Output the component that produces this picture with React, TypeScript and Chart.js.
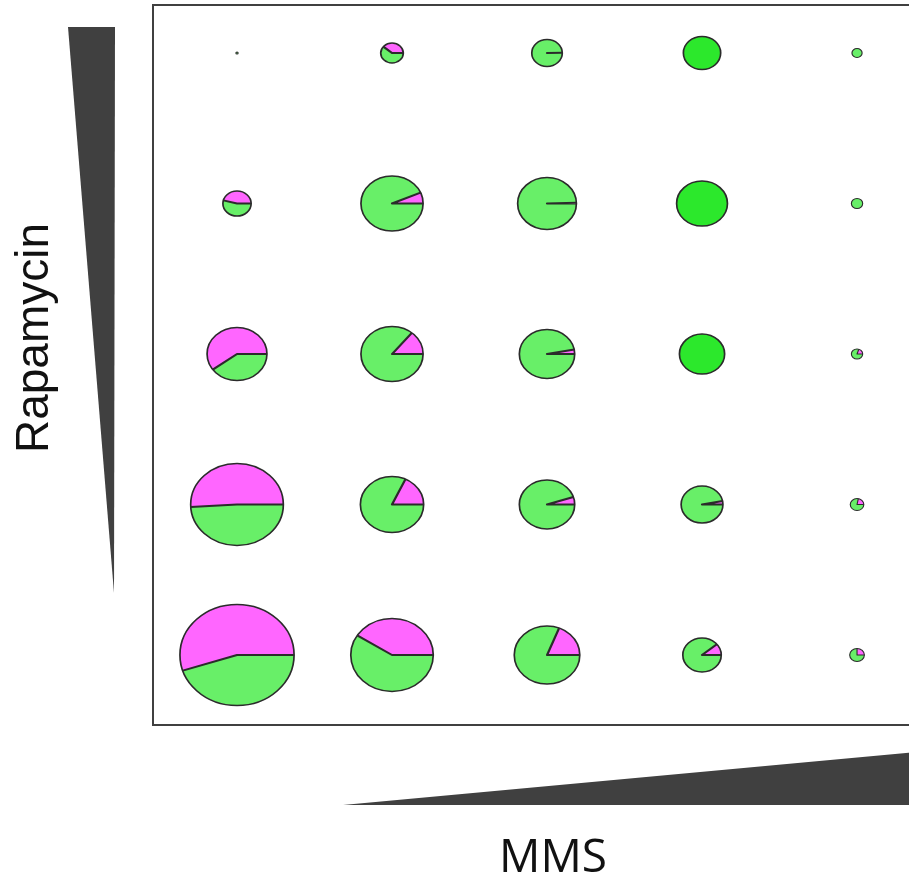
import { useEffect, useRef } from "react";
import { Chart, registerables } from "chart.js";

Chart.register(...registerables);

// MMS dose steps (x) and rapamycin dose steps (y), lowest first
const mmsLevels = [0, 1, 2, 3, 4];
const rapamycinLevels = [0, 1, 2, 3, 4];

// Pie diameter for each MMS step, one list per rapamycin step
const sizeRap0 = [101, 73, 58, 34, 13];
const sizeRap1 = [82, 56, 49, 37, 12];
const sizeRap2 = [53, 55, 49, 40, 10];
const sizeRap3 = [25, 55, 52, 45, 10];
const sizeRap4 = [2, 20, 27, 33, 9];

// Share of the magenta slice for each MMS step, one list per rapamycin step
const pinkRap0 = [0.55, 0.41, 0.19, 0.11, 0.25];
const pinkRap1 = [0.51, 0.18, 0.05, 0.03, 0.22];
const pinkRap2 = [0.6, 0.14, 0.03, 0, 0.2];
const pinkRap3 = [0.46, 0.065, 0.004, 0, 0];
const pinkRap4 = [0, 0.39, 0.004, 0, 0];

// Pies drawn as a single solid green disc
const solidRap0 = [false, false, false, false, false];
const solidRap1 = [false, false, false, false, false];
const solidRap2 = [false, false, false, true, false];
const solidRap3 = [false, false, false, true, false];
const solidRap4 = [false, false, false, true, false];

const sizes = [sizeRap0, sizeRap1, sizeRap2, sizeRap3, sizeRap4];
const pinkShares = [pinkRap0, pinkRap1, pinkRap2, pinkRap3, pinkRap4];
const solidFlags = [solidRap0, solidRap1, solidRap2, solidRap3, solidRap4];

const xTitle = "MMS";
const yTitle = "Rapamycin";

const GREEN = "#68ef68";
const SOLID_GREEN = "#2ce82c";
const PINK = "#ff66ff";
const EDGE = "#2b2b2b";
const DARK = "#404040";
const ASPECT = 1.13;

const pieGlyphs = {
  id: "pieGlyphs",
  beforeDatasetsDraw(chart: any) {
    const ctx = chart.ctx as CanvasRenderingContext2D;
    const a = chart.chartArea;
    ctx.save();
    // plot frame
    ctx.strokeStyle = DARK;
    ctx.lineWidth = 2;
    ctx.strokeRect(a.left, a.top, a.right - a.left, a.bottom - a.top);

    // dose wedges
    ctx.fillStyle = DARK;
    ctx.beginPath();
    ctx.moveTo(a.left - 85, a.top + 22);
    ctx.lineTo(a.left - 38, a.top + 22);
    ctx.lineTo(a.left - 39, a.top + 588);
    ctx.closePath();
    ctx.fill();

    ctx.beginPath();
    ctx.moveTo(a.left + 190, a.bottom + 80);
    ctx.lineTo(chart.width, a.bottom + 23);
    ctx.lineTo(chart.width, a.bottom + 80);
    ctx.closePath();
    ctx.fill();

    // axis titles
    ctx.fillStyle = "#111";
    ctx.textAlign = "center";
    ctx.textBaseline = "alphabetic";
    ctx.font = '46px "Open Sans", "Liberation Sans", sans-serif';
    ctx.fillText(xTitle, 553, a.bottom + 147);

    ctx.translate(48, 338);
    ctx.rotate(-Math.PI / 2);
    ctx.font = '46px "Liberation Sans", Arial, sans-serif';
    ctx.fillText(yTitle, 0, 0);
    ctx.restore();
  },
  afterDatasetsDraw(chart: any) {
    const ctx = chart.ctx as CanvasRenderingContext2D;
    chart.data.datasets.forEach((ds: any, di: number) => {
      const meta = chart.getDatasetMeta(di);
      meta.data.forEach((el: any, i: number) => {
        const r = el.options.radius;
        if (!r || r <= 0) return;
        const pink = pinkShares[di][i];
        const solid = solidFlags[di][i];
        ctx.save();
        ctx.translate(el.x, el.y);
        ctx.scale(ASPECT, 1);
        ctx.lineJoin = "round";
        ctx.strokeStyle = EDGE;
        ctx.lineWidth = r < 8 ? 1 : 1.5;
        if (solid || pink <= 0) {
          ctx.beginPath();
          ctx.arc(0, 0, r, 0, Math.PI * 2);
          ctx.fillStyle = solid ? SOLID_GREEN : GREEN;
          ctx.fill();
          ctx.stroke();
        } else {
          const split = (1 - pink) * Math.PI * 2;
          ctx.beginPath();
          ctx.moveTo(0, 0);
          ctx.arc(0, 0, r, 0, split);
          ctx.closePath();
          ctx.fillStyle = GREEN;
          ctx.fill();
          ctx.beginPath();
          ctx.moveTo(0, 0);
          ctx.arc(0, 0, r, split, Math.PI * 2);
          ctx.closePath();
          ctx.fillStyle = PINK;
          ctx.fill();
          // outline and slice edges
          ctx.beginPath();
          ctx.arc(0, 0, r, 0, Math.PI * 2);
          ctx.stroke();
          ctx.beginPath();
          ctx.moveTo(r, 0);
          ctx.lineTo(0, 0);
          ctx.lineTo(r * Math.cos(split), r * Math.sin(split));
          ctx.lineWidth = r < 8 ? 1 : 2;
          ctx.stroke();
        }
        ctx.restore();
      });
    });
  },
};

export default function App() {
  const canvasRef = useRef<HTMLCanvasElement | null>(null);

  useEffect(() => {
    const canvas = canvasRef.current;
    if (!canvas) return;
    const datasets = rapamycinLevels.map((rap, ri) => ({
      label: `Rapamycin ${rap}`,
      data: mmsLevels.map((mms, mi) => ({ x: mms, y: rap, r: sizes[ri][mi] / 2 })),
      backgroundColor: "rgba(0,0,0,0)",
      borderColor: "rgba(0,0,0,0)",
      borderWidth: 0,
      clip: false as any,
    }));
    const chart = new Chart(canvas, {
      type: "bubble",
      data: { datasets },
      options: {
        animation: false,
        responsive: false,
        events: [],
        layout: { autoPadding: false, padding: { left: 153, top: 5, right: 5, bottom: 154 } },
        plugins: { legend: { display: false }, tooltip: { enabled: false } },
        scales: {
          x: { type: "linear", display: false, min: -0.542, max: 4.632 },
          y: { type: "linear", display: false, min: -0.465, max: 4.319 },
        },
      },
      plugins: [pieGlyphs],
    });
    return () => chart.destroy();
  }, []);

  return (
    <div
      style={{
        position: "fixed",
        left: 0,
        top: 0,
        width: 909,
        height: 879,
        overflow: "hidden",
        background: "#fff",
      }}
    >
      <canvas ref={canvasRef} width={960} height={879} style={{ width: 960, height: 879, display: "block" }} />
    </div>
  );
}
